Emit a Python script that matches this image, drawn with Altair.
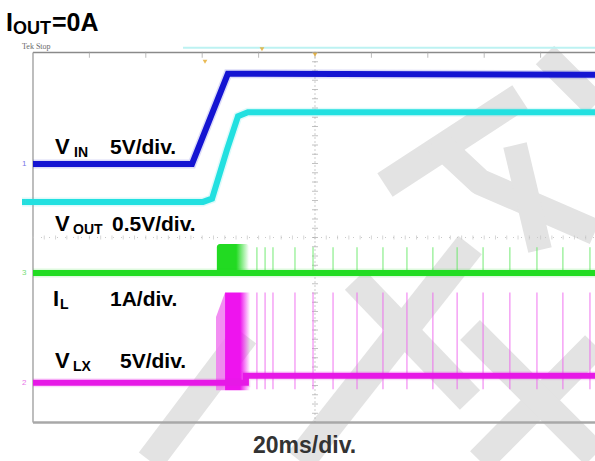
import altair as alt
import pandas as pd

# Screen coordinates: time in ms (20 ms/div), level in divisions from the screen centre.
T_MIN, T_MAX = -11.70, 199.29
V_MIN, V_MAX = -4.832, 5.135

# ---- channel traces --------------------------------------------------------
vin_t = [0.0, 56.4, 69.1, 199.3]
vin_v = [1.59, 1.59, 3.54, 3.52]

vout_t = [-3.9, 60.3, 63.5, 68.8, 72.7, 76.2, 199.3]
vout_v = [0.77, 0.77, 0.84, 1.90, 2.62, 2.71, 2.71]

il_t = [0.0, 199.3]
il_v = [-0.77, -0.77]

vlx_t = [0.0, 75.5, 75.5, 199.3]
vlx_v = [-3.14, -3.14, -2.99, -2.99]

# start-up switching bursts
il_burst_t = [65.2, 76.6]
il_burst_v = [-0.77, -0.14]
vlx_burst_t = [68.1, 77.0]
vlx_burst_v = [-3.30, -1.19]
vlx_ramp_t = [64.9, 68.1]
vlx_ramp_top = [-1.72, -1.19]

# isolated switching pulses once the output is up
pulse_t = [79.4, 82.3, 85.1, 92.9, 99.3, 106.4, 114.9, 124.1, 132.6,
           141.8, 150.4, 159.6, 169.1, 178.7, 187.9, 197.5]
il_pulse_v = [-0.21, -0.77]
vlx_pulse_v = [-1.19, -3.28]

# ---- background watermark strokes (pixel polylines) -------------------------
wm_paths = [
    [(150, 461), (245, 335)],
    [(300, 461), (470, 245)],
    [(355, 280), (470, 400)],
    [(385, 185), (520, 97)],
    [(435, 140), (480, 182), (595, 232)],
    [(515, 145), (540, 250)],
    [(545, 55), (595, 105)],
    [(480, 461), (595, 345)],
    [(470, 330), (595, 455)],
]
wm_width = [28, 30, 28, 28, 26, 24, 26, 28, 28]


def px_to_t(px):
    return (px - 33) / 56.4 * 20


def px_to_v(py):
    return (237.5 - py) / 46.25


XS = alt.Scale(domain=[T_MIN, T_MAX], nice=False, zero=False)
YS = alt.Scale(domain=[V_MIN, V_MAX], nice=False, zero=False)


def X(f="t"):
    return alt.X(f"{f}:Q", scale=XS, axis=None)


def Y(f="v"):
    return alt.Y(f"{f}:Q", scale=YS, axis=None)


def trace(ts, vs, color, width):
    df = pd.DataFrame({"t": ts, "v": vs, "k": range(len(ts))})
    halo = alt.Chart(df).mark_line(color=color, strokeWidth=width + 3, opacity=0.15,
                                   clip=True).encode(x=X(), y=Y(), order="k:Q")
    core = alt.Chart(df).mark_line(color=color, strokeWidth=width,
                                   clip=True).encode(x=X(), y=Y(), order="k:Q")
    return [halo, core]


one = pd.DataFrame({"k": [0]})


def label(txt, x, y, size, color="#000000", font="Liberation Sans", weight="bold"):
    return alt.Chart(one).mark_text(
        text=txt, align="left", baseline="alphabetic", fontSize=size,
        fontWeight=weight, font=font, color=color
    ).encode(x=alt.value(x), y=alt.value(y))


layers = []

# watermark
wm_rows = []
for i, (path, w) in enumerate(zip(wm_paths, wm_width)):
    for k, (px, py) in enumerate(path):
        wm_rows.append({"id": i, "k": k, "t": px_to_t(px), "v": px_to_v(py), "w": w})
layers.append(
    alt.Chart(pd.DataFrame(wm_rows)).mark_line(color="#e3e3e3", strokeCap="butt",
                                               strokeJoin="round").encode(
        x=X(), y=Y(), detail="id:N", order="k:Q", size=alt.Size("w:Q", scale=None, legend=None)
    )
)

# screen frame
frame = pd.DataFrame({
    "t": [0, 0, 0], "t2": [200, 0, 200],
    "v": [4.0, -4.0, -4.0], "v2": [4.0, 4.0, -4.0],
    "c": ["#8a8a8a", "#9a9a9a", "#a8a8a8"], "w": [1.3, 1.3, 2.6],
})
layers.append(alt.Chart(frame).mark_rule(clip=True).encode(
    x=X(), x2="t2:Q", y=Y(), y2="v2:Q",
    color=alt.Color("c:N", scale=None), strokeWidth=alt.StrokeWidth("w:Q", scale=None)))

# centre crosshair with minor ticks
layers.append(alt.Chart(pd.DataFrame({"t": [100], "v": [-4], "v2": [4]})).mark_rule(
    color="#9a9a9a", strokeWidth=1, strokeDash=[1, 3]).encode(x=X(), y=Y(), y2="v2:Q"))
layers.append(alt.Chart(pd.DataFrame({"t": [0], "t2": [200], "v": [0]})).mark_rule(
    color="#c8c8c8", strokeWidth=1, strokeDash=[1, 7]).encode(x=X(), x2="t2:Q", y=Y()))
vt = pd.DataFrame({"t": [100] * 41, "v": [-4 + 0.2 * i for i in range(41)]})
layers.append(alt.Chart(vt).mark_tick(orient="horizontal", size=6, thickness=1,
                                      color="#a8a8a8").encode(x=X(), y=Y()))
ht = pd.DataFrame({"t": [4 * i for i in range(51)], "v": [0] * 51})
layers.append(alt.Chart(ht).mark_tick(orient="vertical", size=4, thickness=1,
                                      color="#c4c4c4").encode(x=X(), y=Y()))
tt = pd.DataFrame({"t": [20 * i for i in range(1, 10)], "v": [3.95] * 9})
layers.append(alt.Chart(tt).mark_tick(orient="vertical", size=6, thickness=1,
                                      color="#a0a0a0").encode(x=X(), y=Y()))

# header strip: trigger bar, markers and status text
layers.append(alt.Chart(pd.DataFrame({"t": [53.2], "t2": [199.3], "v": [4.10]})).mark_rule(
    color="#bdf2f2", strokeWidth=2).encode(x=X(), x2="t2:Q", y=Y()))
marks = pd.DataFrame({"t": [61.0, 81.2, 100.0], "v": [3.80, 4.07, 3.95]})
layers.append(alt.Chart(marks).mark_point(shape="triangle-down", size=22, filled=True,
                                          color="#e3a92a", opacity=0.8).encode(x=X(), y=Y()))
layers.append(label("Tek Stop", 22, 49, 8, color="#6a6a6a", font="Liberation Serif",
                    weight="normal"))

# isolated pulses
pul_il = pd.DataFrame({"t": pulse_t, "v": il_pulse_v[0], "v2": il_pulse_v[1]})
layers.append(alt.Chart(pul_il).mark_rule(color="#66e866", strokeWidth=1.3,
                                          opacity=0.7).encode(x=X(), y=Y(), y2="v2:Q"))
pul_lx = pd.DataFrame({"t": pulse_t, "v": vlx_pulse_v[0], "v2": vlx_pulse_v[1]})
layers.append(alt.Chart(pul_lx).mark_rule(color="#ee66ee", strokeWidth=1.3,
                                          opacity=0.7).encode(x=X(), y=Y(), y2="v2:Q"))


# start-up bursts
def hfade(rgb, solid):
    return alt.Gradient(gradient="linear", x1=0, x2=1, y1=0, y2=0, stops=[
        alt.GradientStop(color=f"rgba({rgb},1)", offset=0),
        alt.GradientStop(color=f"rgba({rgb},1)", offset=solid),
        alt.GradientStop(color=f"rgba({rgb},0)", offset=1),
    ])


ilb = pd.DataFrame({"t": [il_burst_t[0]], "t2": [il_burst_t[1]],
                    "v": [il_burst_v[0]], "v2": [il_burst_v[1]]})
layers.append(alt.Chart(ilb).mark_rect(fill=hfade("34,218,34", 0.6), cornerRadius=3).encode(
    x=X(), x2="t2:Q", y=Y(), y2="v2:Q"))
ramp = pd.DataFrame({"t": vlx_ramp_t, "v": vlx_ramp_top, "v2": [vlx_burst_v[0]] * 2})
layers.append(alt.Chart(ramp).mark_area(color="#f07af0", opacity=0.85).encode(
    x=X(), y=Y(), y2="v2:Q"))
lxb = pd.DataFrame({"t": [vlx_burst_t[0]], "t2": [vlx_burst_t[1]],
                    "v": [vlx_burst_v[0]], "v2": [vlx_burst_v[1]]})
layers.append(alt.Chart(lxb).mark_rect(fill=hfade("238,20,238", 0.6)).encode(
    x=X(), x2="t2:Q", y=Y(), y2="v2:Q"))

# traces
layers += trace(vin_t, vin_v, "#1414d2", 6)
layers += trace(vout_t, vout_v, "#22e0e0", 6)
layers += trace(il_t, il_v, "#22dc22", 6)
layers += trace(vlx_t, vlx_v, "#e619e6", 6)

# channel markers at the left edge
chan = pd.DataFrame({"v": [vin_v[0], vout_v[0], il_v[0], vlx_v[0]],
                     "n": ["1", "4", "3", "2"],
                     "c": ["#3b3be0", "#3ad8d8", "#3ad03a", "#e040e0"]})
layers.append(alt.Chart(chan).mark_text(fontSize=8, font="Liberation Sans", align="left",
                                        baseline="middle", opacity=0.7).encode(
    x=alt.value(22), y=Y(), text="n:N", color=alt.Color("c:N", scale=None)))

# annotations
layers += [
    label("I", 6, 31, 25), label("OUT", 13, 34, 18), label("=0A", 52, 31, 25),
    label("V", 55, 154, 22), label("IN", 74, 157, 14), label("5V/div.", 110, 154, 21),
    label("V", 55, 231, 22), label("OUT", 73, 234, 14), label("0.5V/div.", 112, 231, 21),
    label("I", 53, 306, 22), label("L", 60, 309, 14), label("1A/div.", 110, 306, 21),
    label("V", 55, 368, 22), label("LX", 73, 371, 14), label("5V/div.", 120, 368, 21),
    label("20ms/div.", 253, 453, 23, color="#333333"),
]

chart = alt.layer(*layers).properties(
    width=595, height=461, padding=0, autosize="none", background="white"
).configure_view(strokeWidth=0)

chart.save("out.html", embed_options={"renderer": "svg", "actions": False})
